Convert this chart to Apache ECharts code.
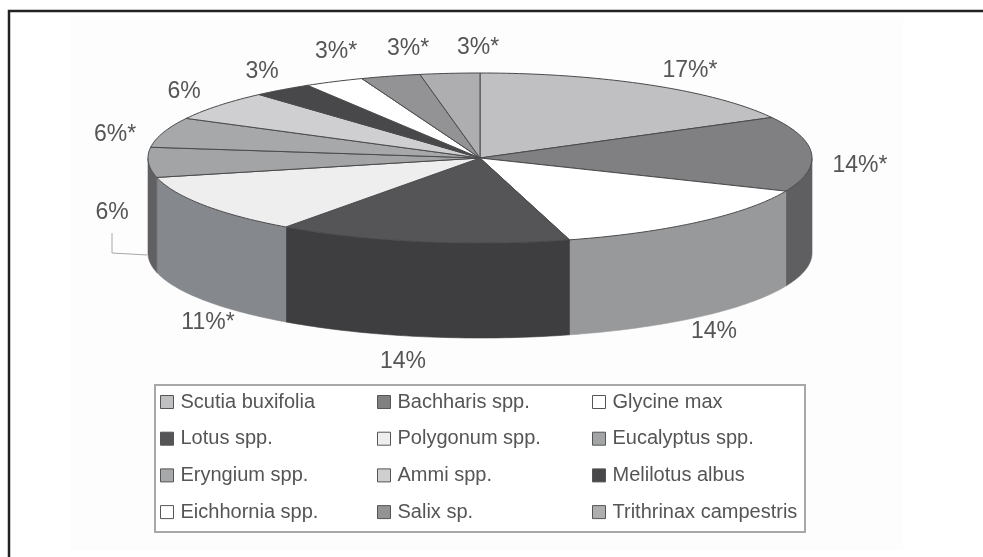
<!DOCTYPE html>
<html>
<head>
<meta charset="utf-8">
<style>
html, body { margin: 0; padding: 0; background: #fff; }
#chart { width: 983px; height: 557px; filter: blur(0.7px); }
</style>
<script src="https://cdn.jsdelivr.net/npm/echarts@6/dist/echarts.min.js"></script>
</head>
<body>
<div id="chart"></div>
<script>
var species = ['Scutia buxifolia', 'Bachharis spp.', 'Glycine max', 'Lotus spp.', 'Polygonum spp.', 'Eucalyptus spp.',
    'Eryngium spp.', 'Ammi spp.', 'Melilotus albus', 'Eichhornia spp.', 'Salix sp.', 'Trithrinax campestris'];
var shares = [17.1, 14.3, 14.3, 14.3, 11.4, 5.7, 5.7, 5.7, 2.9, 2.9, 2.9, 2.9];
var labels = ['17%*', '14%*', '14%', '14%', '11%*', '6%', '6%*', '6%', '3%', '3%*', '3%*', '3%*'];

var topColors = ['#c0c0c2', '#808082', '#ffffff', '#555557', '#eeeeee', '#a2a4a6', '#a6a8aa', '#cfcfd1', '#48484a', '#ffffff', '#939395', '#aeaeb0'];
var wallColors = ['#909092', '#5f5f61', '#98999b', '#3e3e40', '#85888c', '#606062', '#7a7a7c', '#9a9a9c', '#333335', '#bbbbbb', '#6e6e70', '#828284'];

var cx = 480, cy = 158, rx = 332, ry = 85, depth = 95;
var labelPos = [[690, 71], [860, 166], [714, 332], [403, 362], [208, 323], [112, 213], [115, 135], [184, 92], [262, 72], [336, 52], [408, 49], [478, 48]];

var total = shares.reduce(function (a, b) { return a + b; }, 0);

function rimPoint(t, dy) {
    return [cx + rx * Math.sin(t), cy + ry * -Math.cos(t) + (dy || 0)];
}

function arc(a, b) {
    var pts = [];
    var n = Math.max(2, Math.ceil(Math.abs(b - a) / 0.02));
    for (var i = 0; i <= n; i++) {
        pts.push(a + (b - a) * i / n);
    }
    return pts;
}

// draws one slice, the wall first where the slice faces the front
function renderSlice(idx, params, api) {
    var a = api.value(0) / total * Math.PI * 2;
    var b = api.value(1) / total * Math.PI * 2;
    var children = [];
    var wa = Math.max(a, Math.PI / 2), wb = Math.min(b, Math.PI * 1.5);
    if (wb > wa) {
        var ts = arc(wa, wb);
        var pts = ts.map(function (t) { return rimPoint(t); });
        ts.slice().reverse().forEach(function (t) { pts.push(rimPoint(t, depth)); });
        children.push({
            type: 'polygon',
            shape: { points: pts },
            style: { fill: wallColors[idx], stroke: wallColors[idx], lineWidth: 0.6 }
        });
    }
    var top = [[cx, cy]];
    arc(a, b).forEach(function (t) { top.push(rimPoint(t)); });
    children.push({
        type: 'polygon',
        shape: { points: top },
        style: { fill: topColors[idx], stroke: '#4a4a4c', lineWidth: 1 }
    });
    children.push({
        type: 'text',
        x: labelPos[idx][0],
        y: labelPos[idx][1],
        style: {
            text: labels[idx],
            fill: '#555',
            font: '23px "Liberation Sans"',
            align: 'center',
            verticalAlign: 'middle'
        }
    });
    return { type: 'group', children: children };
}

var series = [];
var acc = 0;
species.forEach(function (name, i) {
    series.push({
        name: name,
        type: 'custom',
        coordinateSystem: 'none',
        itemStyle: { color: topColors[i] },
        silent: true,
        data: [[acc, acc + shares[i]]],
        renderItem: function (params, api) { return renderSlice(i, params, api); }
    });
    acc += shares[i];
});

function legendColumn(names, left) {
    return {
        orient: 'vertical',
        left: left,
        top: 392,
        icon: 'rect',
        itemWidth: 13,
        itemHeight: 13,
        itemGap: 16.7,
        selectedMode: false,
        itemStyle: { borderColor: '#555', borderWidth: 1 },
        textStyle: { color: '#555', fontFamily: 'Liberation Sans', fontSize: 20, lineHeight: 20, padding: [0, 0, 0, 2] },
        padding: 0,
        data: names
    };
}

var myChart = echarts.init(document.getElementById('chart'));
var option = {
    backgroundColor: '#fff',
    animation: false,
    legend: [
        legendColumn(species.filter(function (n, i) { return i % 3 === 0; }), 160),
        legendColumn(species.filter(function (n, i) { return i % 3 === 1; }), 377),
        legendColumn(species.filter(function (n, i) { return i % 3 === 2; }), 592)
    ],
    graphic: [
        { type: 'rect', shape: { x: 70, y: 17, width: 833, height: 533 }, style: { fill: '#fdfdfd' }, z: -10 },
        { type: 'rect', shape: { x: 155, y: 385, width: 650, height: 147 }, style: { fill: '#fff', stroke: '#a8a8a8', lineWidth: 2 }, z: -9 },
        { type: 'polyline', shape: { points: [[112, 233], [112, 253], [147, 255]] }, style: { fill: 'none', stroke: '#a8a8a8', lineWidth: 1 } },
        { type: 'polyline', shape: { points: [[9, 557], [9, 11], [983, 11]] }, style: { fill: 'none', stroke: '#222', lineWidth: 2.5 } }
    ],
    series: series
};
myChart.setOption(option);
</script>
</body>
</html>
